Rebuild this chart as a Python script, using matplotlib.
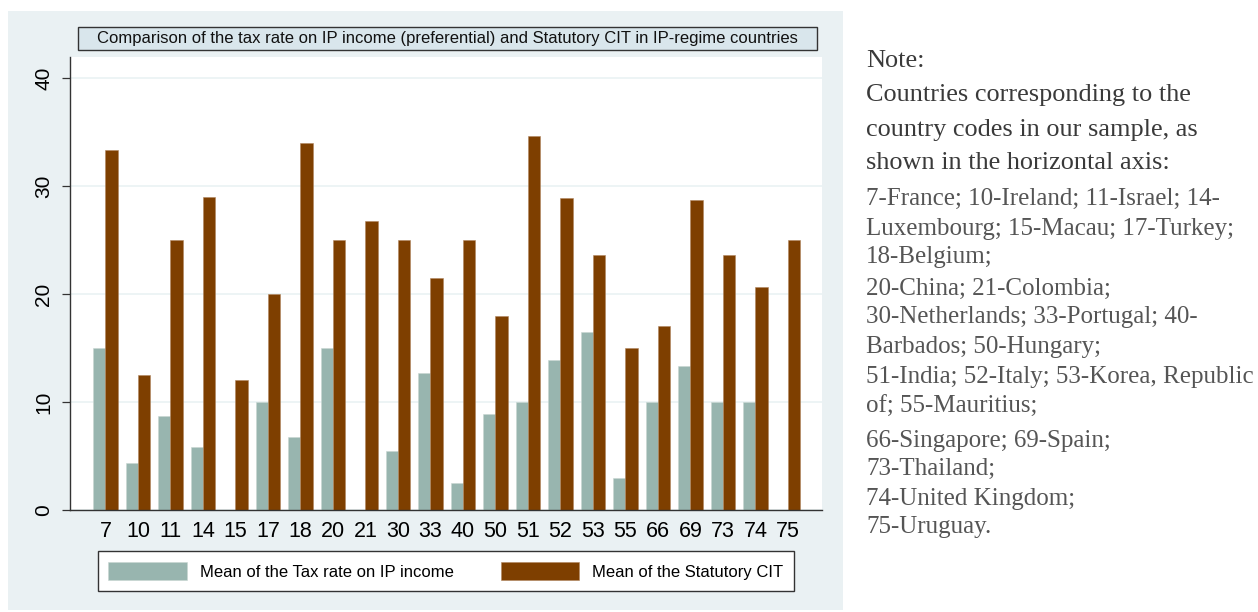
import numpy as np
import matplotlib
matplotlib.use("Agg")
from matplotlib import pyplot as plt
from matplotlib.patches import Rectangle

# country codes on the horizontal axis
codes = ['7', '10', '11', '14', '15', '17', '18', '20', '21', '30', '33',
         '40', '50', '51', '52', '53', '55', '66', '69', '73', '74', '75']
# mean tax rate on IP income (preferential); 0 = no bar
ip_rate = [15, 4.35, 8.67, 5.83, 0, 10, 6.8, 15, 0, 5.5, 12.7,
           2.5, 8.9, 10, 13.9, 16.45, 3, 10, 13.3, 10, 10, 0]
# mean statutory CIT
cit_rate = [33.33, 12.5, 25, 29, 12, 20, 34, 25, 26.8, 25, 21.5,
            25, 18, 34.6, 28.9, 23.6, 15, 17, 28.7, 23.6, 20.6, 25]

title = 'Comparison of the tax rate on IP income (preferential) and Statutory CIT in IP-regime countries'
legend_labels = ['Mean of the Tax rate on IP income', 'Mean of the Statutory CIT']

note_head = ['Note:', 'Countries corresponding to the',
             'country codes in our sample, as', 'shown in the horizontal axis:']
note_list = ['7-France; 10-Ireland; 11-Israel; 14-',
             'Luxembourg; 15-Macau; 17-Turkey;',
             '18-Belgium;',
             '20-China; 21-Colombia;',
             '30-Netherlands; 33-Portugal; 40-',
             'Barbados; 50-Hungary;',
             '51-India; 52-Italy; 53-Korea, Republic',
             'of; 55-Mauritius;',
             '66-Singapore; 69-Spain;',
             '73-Thailand;',
             '74-United Kingdom;',
             '75-Uruguay.']

W, H = 1258, 612
fig = plt.figure(figsize=(W / 100, H / 100), dpi=100)
plt.rcParams['font.family'] = ['Liberation Sans', 'DejaVu Sans']

# graph region background (Stata-like)
fig.patches.append(Rectangle((8 / W, 1 - 610 / H), 835 / W, 599 / H,
                             transform=fig.transFigure, facecolor='#eaf1f3',
                             edgecolor='none', zorder=-5))

ax = fig.add_axes([70 / W, 1 - 510 / H, 752 / W, 453 / H])
ax.set_zorder(2)
ax.set_facecolor('white')

x = np.arange(len(codes))
w = 0.38
gray = '#98b5af'
brown = '#7e3f00'
ax.bar(x - w / 2, ip_rate, w, color=gray, edgecolor='#c9d6d2', linewidth=0.4,
       label=legend_labels[0], zorder=2)
ax.bar(x + w / 2, cit_rate, w, color=brown, edgecolor='#b08560', linewidth=0.4,
       label=legend_labels[1], zorder=2)

ax.set_xlim(-1.09, 22.05)
ax.set_ylim(0, 41.94)
ax.set_xticks(x)
ax.set_xticklabels(codes, fontsize=15.5)
ax.tick_params(axis='x', length=0, pad=8)
ax.set_yticks([0, 10, 20, 30, 40])
ax.set_yticklabels(['0', '10', '20', '30', '40'], fontsize=15, rotation=90,
                   va='center')
ax.tick_params(axis='y', length=6, width=0.9, color='#333333', pad=6)
ax.yaxis.grid(True, color='#eaf2f3', linewidth=1.2, zorder=0)
ax.set_axisbelow(True)
for s in ['top', 'right']:
    ax.spines[s].set_visible(False)
for s in ['left', 'bottom']:
    ax.spines[s].set_color('#333333')
    ax.spines[s].set_linewidth(1.0)

# title box
fig.patches.append(Rectangle((78 / W, 1 - 50 / H), 739 / W, 23.5 / H,
                             transform=fig.transFigure, facecolor='#d9e6ec',
                             edgecolor='#333333', linewidth=1.0, zorder=1))
fig.text(447 / W, 1 - 38.5 / H, title, ha='center', va='center',
         fontsize=12, color='#111111', zorder=2)

leg = ax.legend(loc='center', bbox_to_anchor=(446 / W, 1 - 571 / H),
                bbox_transform=fig.transFigure, ncol=2, fontsize=12,
                frameon=True, fancybox=False, edgecolor='#333333',
                handlelength=4.7, handleheight=1.25, handletextpad=0.8,
                columnspacing=2.8, borderpad=0.65, framealpha=1)
leg.get_frame().set_linewidth(1.0)

# note text on the right
head_y = [67, 101, 136, 169]
list_y = [205, 235, 263, 295, 323, 353, 383, 413, 447, 475, 505, 533]
for t, yy in zip(note_head, head_y):
    fig.text(866 / W, 1 - yy / H, t, ha='left', va='baseline',
             fontsize=18.9, family='Liberation Serif', color='#3a3a3a')
for t, yy in zip(note_list, list_y):
    fig.text(866 / W, 1 - yy / H, t, ha='left', va='baseline',
             fontsize=18, family='Liberation Serif', color='#555555')

fig.savefig('out.png', dpi=100, facecolor='white')
